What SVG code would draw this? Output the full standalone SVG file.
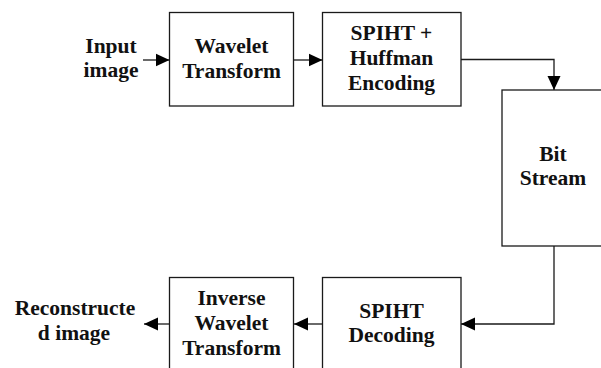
<svg xmlns="http://www.w3.org/2000/svg" width="601" height="368" viewBox="0 0 601 368">
  <style>
    .box { fill: #ffffff; stroke: #1a1a1a; stroke-width: 1.3; }
    .lbl { font-family: "Liberation Serif", "Times New Roman", serif; font-weight: bold; font-size: 21.5px; fill: #111111; text-anchor: middle; }
    .wire { fill: none; stroke: #1a1a1a; stroke-width: 1.3; }
  </style>
  <defs>
    <marker id="arrow" markerUnits="userSpaceOnUse" markerWidth="14" markerHeight="14" viewBox="0 0 14 14" refX="14" refY="7" orient="auto">
      <path d="M0,0.5 L14,7 L0,13.5 Z" fill="#000000"/>
    </marker>
  </defs>

  <rect width="601" height="368" fill="#ffffff"/>

  <!-- connectors -->
  <g id="connectors">
    <path class="wire" d="M143,60 H169.5" marker-end="url(#arrow)"/>
    <path class="wire" d="M293.5,60 H322.5" marker-end="url(#arrow)"/>
    <path class="wire" d="M461,59.5 H554 V90" marker-end="url(#arrow)"/>
    <path class="wire" d="M554,246 V324 H461" marker-end="url(#arrow)"/>
    <path class="wire" d="M322.5,324 H294" marker-end="url(#arrow)"/>
    <path class="wire" d="M169.5,324 H144" marker-end="url(#arrow)"/>
  </g>

  <!-- input label -->
  <g id="input">
    <text class="lbl" x="111" y="53">Input</text>
    <text class="lbl" x="111" y="77">image</text>
  </g>

  <g id="wavelet">
    <rect class="box" x="169.5" y="12.5" width="124" height="93.5"/>
    <text class="lbl" x="231.5" y="53">Wavelet</text>
    <text class="lbl" x="231.5" y="78">Transform</text>
  </g>

  <g id="encoder">
    <rect class="box" x="322.5" y="12.5" width="138.5" height="93.5"/>
    <text class="lbl" x="391.5" y="40">SPIHT +</text>
    <text class="lbl" x="391.5" y="65">Huffman</text>
    <text class="lbl" x="391.5" y="90">Encoding</text>
  </g>

  <g id="bitstream">
    <rect class="box" x="502" y="90" width="110" height="156"/>
    <text class="lbl" x="553" y="161">Bit</text>
    <text class="lbl" x="553" y="185">Stream</text>
  </g>

  <g id="decoder">
    <rect class="box" x="322.5" y="277.5" width="138.5" height="100"/>
    <text class="lbl" x="391.5" y="318">SPIHT</text>
    <text class="lbl" x="391.5" y="342">Decoding</text>
  </g>

  <g id="inverse">
    <rect class="box" x="169.5" y="277.5" width="124" height="100"/>
    <text class="lbl" x="231.5" y="305">Inverse</text>
    <text class="lbl" x="231.5" y="330">Wavelet</text>
    <text class="lbl" x="231.5" y="355">Transform</text>
  </g>

  <!-- output label -->
  <g id="output">
    <text class="lbl" x="75" y="315">Reconstructe</text>
    <text class="lbl" x="74" y="340">d image</text>
  </g>
</svg>
